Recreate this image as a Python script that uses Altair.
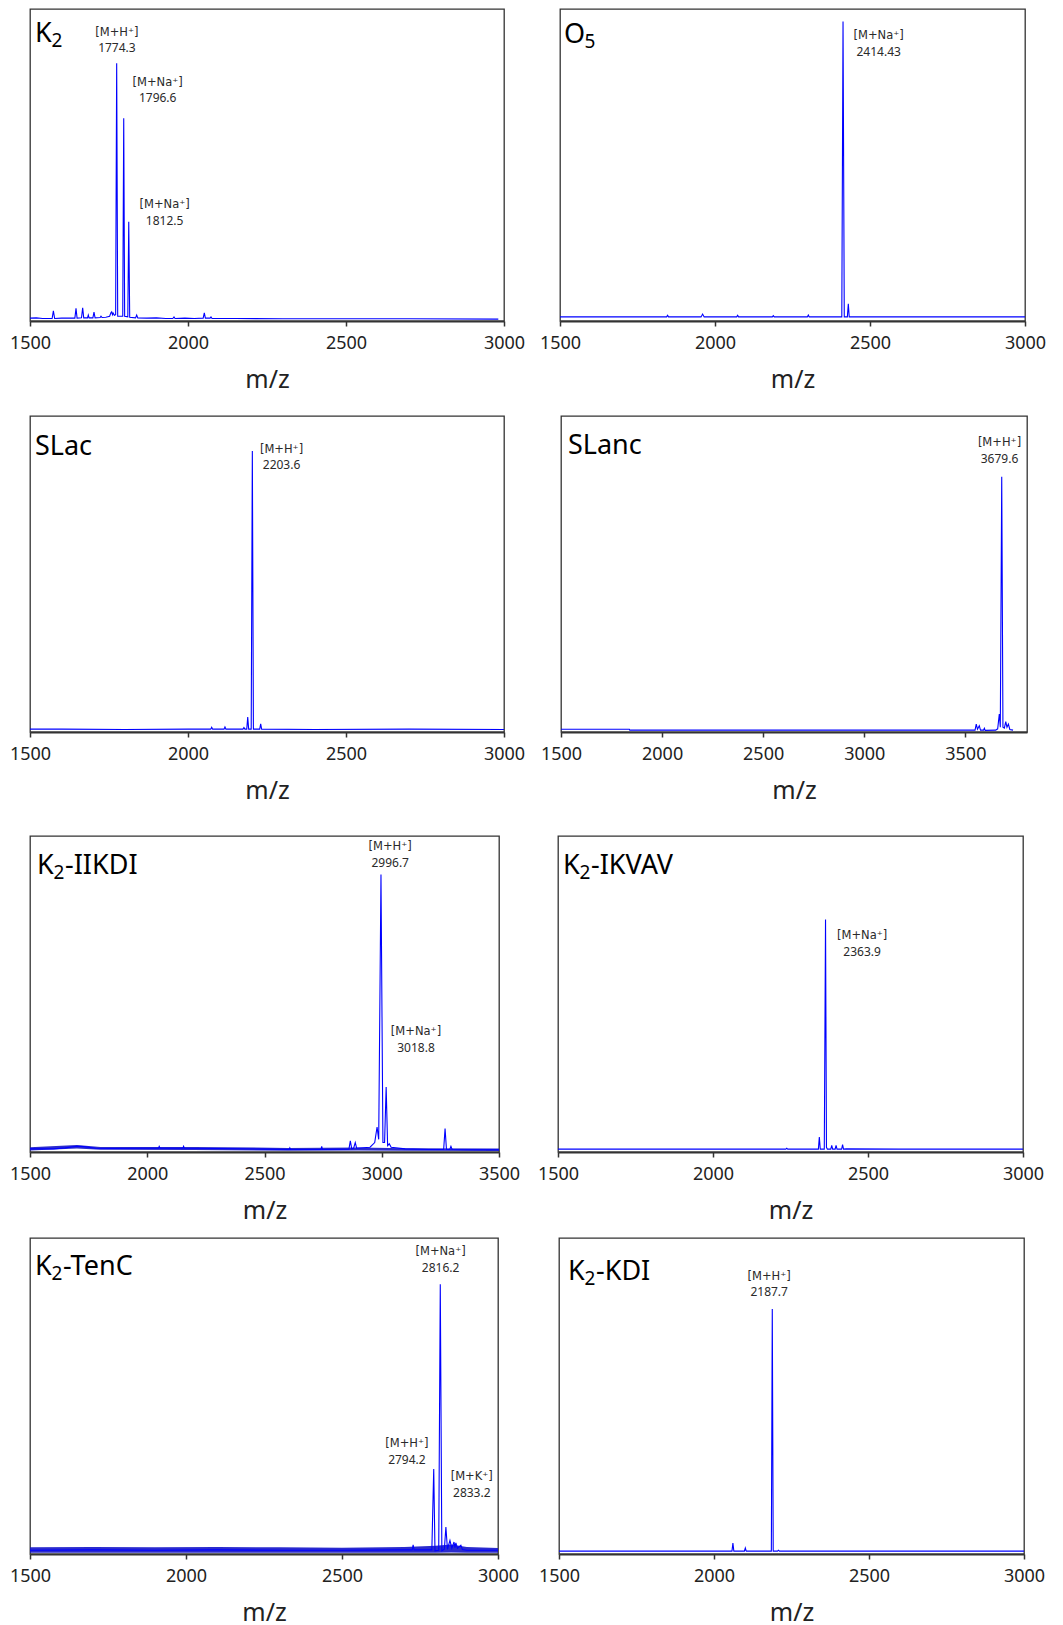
import altair as alt
import pandas as pd

FONT = "Noto Sans"
ION_FONT = "DejaVu Sans"
BLUE = "#0000ff"
FRAME = "#333333"

# ---------------- data ----------------
# Panel 1: K2
K2_MZ = [1500, 1520, 1540, 1570, 1574, 1578, 1600, 1620, 1642, 1645.6, 1649, 1663, 1666.7, 1670,
         1682, 1684.5, 1687, 1699, 1702.5, 1706, 1722, 1724.7, 1728, 1740, 1752, 1756, 1758.5, 1761,
         1763, 1767, 1771, 1774.3, 1777.5, 1793.5, 1796.6, 1799.5, 1809.5, 1812.5, 1815.5, 1834,
         1837.6, 1841, 1870, 1900, 1930, 1952, 1955.7, 1959, 1990, 2020, 2048, 2051.6, 2055, 2070,
         2072.8, 2076, 2150, 2300, 2500, 2700, 2982]
K2_I = [0.9, 1.0, 0.8, 0.8, 3.2, 0.8, 0.9, 0.9, 0.9, 4.0, 0.9, 1.0, 4.2, 1.0,
        1.0, 1.9, 1.0, 1.0, 2.8, 1.0, 1.1, 1.5, 1.1, 1.2, 1.5, 2.6, 2.9, 2.0,
        2.5, 1.8, 2.0, 81.5, 1.5, 1.5, 64.1, 1.5, 1.3, 31.4, 1.2, 1.0,
        1.9, 1.0, 0.9, 1.0, 0.8, 0.8, 1.3, 0.8, 0.9, 0.8, 0.9, 2.6, 0.9, 0.9,
        1.3, 0.8, 0.8, 0.7, 0.7, 0.7, 0.6]
K2_ION = ["[M+H⁺]", "[M+Na⁺]", "[M+Na⁺]"]
K2_MASS = ["1774.3", "1796.6", "1812.5"]
K2_ANN_MZ = [1775, 1904, 1926]
K2_ANN_I = [93.1, 77.3, 38.5]

# Panel 2: O5
O5_MZ = [1500, 1700, 1844, 1847, 1850, 1955, 1960, 1965, 2070, 2073, 2076, 2185, 2188, 2191,
         2298, 2301, 2304, 2409, 2413, 2417, 2427, 2430, 2433, 2600, 3000]
O5_I = [1.3, 1.3, 1.3, 1.8, 1.3, 1.3, 2.2, 1.3, 1.3, 1.8, 1.3, 1.3, 1.7, 1.3,
        1.3, 1.9, 1.3, 1.3, 95.0, 1.3, 1.3, 5.5, 1.3, 1.3, 1.3]
O5_ION = ["[M+Na⁺]"]
O5_MASS = ["2414.43"]
O5_ANN_MZ = [2528]
O5_ANN_I = [92.3]

# Panel 3: SLac
SLAC_MZ = [1500, 1600, 1800, 2000, 2072, 2075, 2078, 2114, 2117, 2120, 2174, 2177, 2180, 2186,
           2189, 2192, 2200, 2203.6, 2207, 2227, 2230, 2233, 2400, 2700, 3000]
SLAC_I = [0.9, 0.9, 0.8, 0.9, 0.9, 1.5, 0.9, 0.9, 1.6, 0.9, 0.9, 1.4, 0.9, 0.9,
          4.7, 0.9, 0.9, 88.9, 0.9, 0.9, 2.6, 0.9, 0.8, 0.9, 0.8]
SLAC_ION = ["[M+H⁺]"]
SLAC_MASS = ["2203.6"]
SLAC_ANN_MZ = [2296]
SLAC_ANN_I = [91.2]

# Panel 4: SLanc
SLANC_MZ = [1500, 1838, 1840, 2500, 3000, 3400, 3548, 3554, 3560, 3569, 3575, 3590, 3594, 3598,
            3650, 3660, 3668, 3673, 3680, 3686, 3693, 3700, 3706, 3713, 3720, 3736]
SLANC_I = [0.85, 0.85, 0.6, 0.6, 0.6, 0.6, 0.6, 2.5, 0.9, 2.0, 0.6, 0.6, 1.2, 0.5,
           0.6, 1.0, 5.7, 1.5, 80.8, 1.5, 1.2, 3.3, 1.5, 2.5, 0.8, 0.6]
SLANC_ION = ["[M+H⁺]"]
SLANC_MASS = ["3679.6"]
SLANC_ANN_MZ = [3669]
SLANC_ANN_I = [93.3]

# Panel 5: K2-IIKDI
IIKDI_MZ = [1500, 1600, 1650, 1700, 1730, 1780, 1850, 2000, 2048, 2051, 2055, 2152, 2155, 2158,
            2300, 2500, 2605, 2608, 2611, 2741, 2744, 2747, 2860, 2866, 2872, 2880, 2887, 2893,
            2950, 2970, 2980, 2987, 2996.7, 3005, 3012, 3018.8, 3025, 3032, 3040, 3100, 3200,
            3264, 3270, 3276, 3290, 3295, 3300, 3400, 3500]
IIKDI_I = [1.0, 1.0, 1.3, 1.8, 1.7, 1.2, 1.1, 1.2, 1.2, 1.8, 1.2, 1.2, 1.8, 1.2,
           1.1, 0.9, 0.8, 1.3, 0.8, 0.8, 1.8, 0.8, 0.9, 3.5, 1.0, 1.2, 3.0, 1.2,
           1.5, 3.0, 7.9, 4.0, 87.8, 3.0, 3.0, 20.6, 2.0, 2.6, 1.5, 1.0, 0.8,
           0.8, 7.4, 0.8, 0.8, 1.8, 0.8, 0.7, 0.7]
IIKDI_NOISE_MZ = [1500, 1700, 1800, 2200, 2600, 2900, 3100, 3500]
IIKDI_NOISE_LO = [0.5, 1.1, 0.7, 0.6, 0.4, 0.5, 0.4, 0.3]
IIKDI_NOISE_HI = [1.5, 2.2, 1.6, 1.6, 1.3, 1.4, 1.2, 1.1]
IIKDI_ION = ["[M+H⁺]", "[M+Na⁺]"]
IIKDI_MASS = ["2996.7", "3018.8"]
IIKDI_ANN_MZ = [3036, 3146]
IIKDI_ANN_I = [98.3, 39.8]

# Panel 6: K2-IKVAV
IKVAV_MZ = [1500, 1800, 2100, 2235, 2238, 2241, 2340, 2343, 2346, 2359, 2363, 2366, 2369, 2380,
            2383, 2386, 2394, 2397, 2400, 2415, 2418, 2421, 2430, 2600, 3000]
IKVAV_I = [0.9, 0.9, 0.9, 0.9, 1.2, 0.9, 0.9, 4.7, 0.9, 0.9, 73.6, 1.5, 0.9, 0.9,
           2.1, 0.9, 0.9, 2.1, 0.9, 0.9, 2.3, 0.9, 1.0, 0.9, 0.9]
IKVAV_ION = ["[M+Na⁺]"]
IKVAV_MASS = ["2363.9"]
IKVAV_ANN_MZ = [2481]
IKVAV_ANN_I = [70.1]

# Panel 7: K2-TenC
TENC_MZ = [1500, 1700, 1900, 2100, 2300, 2500, 2700, 2725, 2728, 2731, 2788, 2794, 2798, 2810,
           2815, 2820, 2828, 2833, 2838, 2846, 2852, 2859, 2862, 2865, 2870, 2881, 2886, 2900, 3000]
TENC_I = [1.2, 1.3, 1.2, 1.3, 1.2, 1.2, 1.3, 1.3, 2.9, 1.3, 1.3, 26.9, 1.0, 1.2,
          85.4, 1.0, 1.5, 8.5, 1.5, 4.3, 1.8, 3.8, 2.0, 3.5, 1.8, 2.8, 1.4, 1.2, 1.2]
TENC_NOISE_MZ = [1500, 1700, 1900, 2100, 2300, 2500, 2700, 2800, 2850, 2900, 3000]
TENC_NOISE_LO = [0.4, 0.4, 0.4, 0.4, 0.4, 0.4, 0.4, 0.4, 0.5, 0.4, 0.4]
TENC_NOISE_HI = [2.1, 2.2, 2.1, 2.2, 2.1, 2.0, 2.2, 2.6, 3.0, 2.2, 1.9]
TENC_ION = ["[M+Na⁺]", "[M+H⁺]", "[M+K⁺]"]
TENC_MASS = ["2816.2", "2794.2", "2833.2"]
TENC_ANN_MZ = [2816, 2708, 2916]
TENC_ANN_I = [97.4, 36.7, 26.2]

# Panel 8: K2-KDI
KDI_MZ = [1500, 1800, 2000, 2058, 2061, 2064, 2098, 2101, 2104, 2185, 2188, 2191, 2205, 2208,
          2211, 2500, 3000]
KDI_I = [0.9, 0.9, 0.9, 0.9, 3.5, 0.9, 0.9, 1.9, 0.9, 0.9, 77.5, 0.9, 0.9, 1.2,
         0.9, 0.9, 0.9]
KDI_ION = ["[M+H⁺]"]
KDI_MASS = ["2187.7"]
KDI_ANN_MZ = [2178]
KDI_ANN_I = [89.7]

TICKS_3000 = [1500, 2000, 2500, 3000]
TICKS_3500 = [1500, 2000, 2500, 3000, 3500]

TITLE_SIZE = 27
SUB_SIZE = 19


def title_layers(main, sub, suffix, tx, ty, main_w):
    out = []
    tdf = pd.DataFrame({"t": [main]})
    out.append(alt.Chart(tdf).mark_text(font=FONT, fontSize=TITLE_SIZE, color="#000000",
                                        align="left", baseline="alphabetic").encode(
        x=alt.value(tx), y=alt.value(ty), text="t:N"))
    if sub:
        sdf = pd.DataFrame({"t": [sub]})
        out.append(alt.Chart(sdf).mark_text(font=FONT, fontSize=SUB_SIZE, color="#000000",
                                            align="left", baseline="alphabetic",
                                            dx=main_w, dy=5).encode(
            x=alt.value(tx), y=alt.value(ty), text="t:N"))
    if suffix:
        xdf = pd.DataFrame({"t": [suffix]})
        out.append(alt.Chart(xdf).mark_text(font=FONT, fontSize=TITLE_SIZE, color="#000000",
                                            align="left", baseline="alphabetic",
                                            dx=main_w + 11.5).encode(
            x=alt.value(tx), y=alt.value(ty), text="t:N"))
    return out


def panel(title, mz, inten, ions, masses, ann_mz, ann_i, domain, ticks, width, height, ymax,
          title_x, title_y, ext, noise=None):
    df = pd.DataFrame({"mz": mz, "I": inten})
    xs = alt.Scale(domain=domain, nice=False, zero=False)
    ys = alt.Scale(domain=[0, ymax], nice=False, zero=True)
    xaxis = alt.Axis(values=ticks, format="d", title="m/z", grid=False, labelFlush=False,
                     labelFont=FONT, labelFontSize=18, labelColor="#222222", labelPadding=8,
                     titleFont=FONT, titleFontSize=25, titleFontWeight="normal",
                     titleColor="#222222", titlePadding=15,
                     domainColor=FRAME, domainWidth=2, tickColor=FRAME, tickWidth=1.5,
                     tickSize=5, labelOverlap=False)
    layers = []
    if noise is not None:
        ndf = pd.DataFrame({"mz": noise[0], "lo": noise[1], "hi": noise[2]})
        layers.append(alt.Chart(ndf).mark_area(color="#1414c8", opacity=0.9).encode(
            x=alt.X("mz:Q", scale=xs, axis=xaxis),
            y=alt.Y("lo:Q", scale=ys, axis=None),
            y2="hi:Q"))
    layers.append(alt.Chart(df).mark_line(color=BLUE, strokeWidth=1.1, clip=True).encode(
        x=alt.X("mz:Q", scale=xs, axis=xaxis),
        y=alt.Y("I:Q", scale=ys, axis=None)))
    adf = pd.DataFrame({"mz": ann_mz, "I": ann_i, "ion": ions, "mass": masses})
    layers.append(alt.Chart(adf).mark_text(font=ION_FONT, fontSize=11.5, color="#2a2a2a",
                                           align="center", baseline="top").encode(
        x=alt.X("mz:Q", scale=xs), y=alt.Y("I:Q", scale=ys), text="ion:N"))
    layers.append(alt.Chart(adf).mark_text(font=FONT, fontSize=12, color="#2a2a2a",
                                           align="center", baseline="top", dy=16.5).encode(
        x=alt.X("mz:Q", scale=xs), y=alt.Y("I:Q", scale=ys), text="mass:N"))
    layers += title_layers(title[0], title[1], title[2], title_x, title_y, title[3])
    rdf = pd.DataFrame({"t": [""]})
    layers.append(alt.Chart(rdf).mark_rule(strokeOpacity=0).encode(
        x=alt.value(0), x2=alt.value(1), y=alt.value(height + ext)))
    return alt.layer(*layers).properties(width=width, height=height)


K_W = 16.5
O_W = 20.5

p1 = panel(("K", "2", "", K_W), K2_MZ, K2_I, K2_ION, K2_MASS, K2_ANN_MZ, K2_ANN_I,
           [1500, 3000], TICKS_3000, 474, 312, 98.7, 5, 33, 93)
p2 = panel(("O", "5", "", O_W), O5_MZ, O5_I, O5_ION, O5_MASS, O5_ANN_MZ, O5_ANN_I,
           [1500, 3000], TICKS_3000, 465, 312, 99.0, 4, 34, 93)
p3 = panel(("SLac", "", "", 0), SLAC_MZ, SLAC_I, SLAC_ION, SLAC_MASS, SLAC_ANN_MZ, SLAC_ANN_I,
           [1500, 3000], TICKS_3000, 474, 316, 100, 5, 39, 102)
p4 = panel(("SLanc", "", "", 0), SLANC_MZ, SLANC_I, SLANC_ION, SLANC_MASS, SLANC_ANN_MZ,
           SLANC_ANN_I, [1500, 3805], TICKS_3500, 466, 316, 100, 7, 38, 102)
p5 = panel(("K", "2", "-IIKDI", K_W), IIKDI_MZ, IIKDI_I, IIKDI_ION, IIKDI_MASS, IIKDI_ANN_MZ,
           IIKDI_ANN_I, [1500, 3500], TICKS_3500, 469, 316, 100, 7, 38, 84,
           noise=(IIKDI_NOISE_MZ, IIKDI_NOISE_LO, IIKDI_NOISE_HI))
p6 = panel(("K", "2", "-IKVAV", K_W), IKVAV_MZ, IKVAV_I, IKVAV_ION, IKVAV_MASS, IKVAV_ANN_MZ,
           IKVAV_ANN_I, [1500, 3000], TICKS_3000, 465, 316, 100, 5, 38, 84)
p7 = panel(("K", "2", "-TenC", K_W), TENC_MZ, TENC_I, TENC_ION, TENC_MASS, TENC_ANN_MZ,
           TENC_ANN_I, [1500, 3000], TICKS_3000, 468, 316, 100, 5, 37, 10,
           noise=(TENC_NOISE_MZ, TENC_NOISE_LO, TENC_NOISE_HI))
p8 = panel(("K", "2", "-KDI", K_W), KDI_MZ, KDI_I, KDI_ION, KDI_MASS, KDI_ANN_MZ, KDI_ANN_I,
           [1500, 3000], TICKS_3000, 465, 316, 100, 9, 42, 10)

row1 = alt.hconcat(p1, p2, spacing=56, bounds="flush")
row2 = alt.hconcat(p3, p4, spacing=57, bounds="flush")
row3 = alt.hconcat(p5, p6, spacing=59, bounds="flush")
row4 = alt.hconcat(p7, p8, spacing=61, bounds="flush")

chart = alt.vconcat(row1, row2, row3, row4, spacing=0).properties(
    padding={"left": 0, "top": 0, "right": 0, "bottom": 0}
).configure_view(stroke=FRAME, strokeWidth=1.3)

chart.save("out.html", embed_options={"renderer": "svg", "actions": False})
